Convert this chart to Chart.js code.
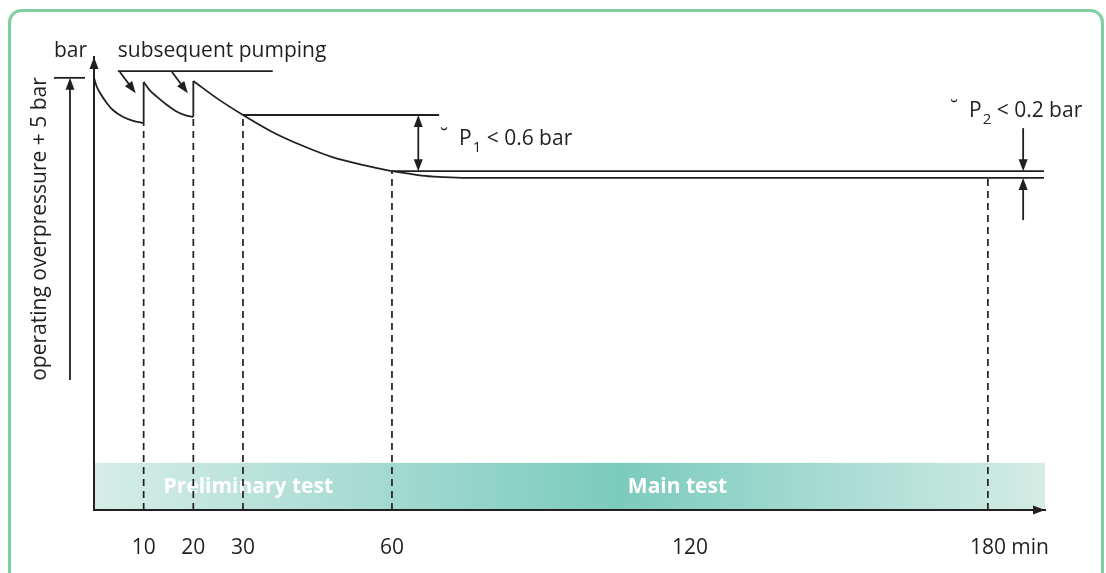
<!DOCTYPE html>
<html>
<head>
<meta charset="utf-8">
<script src="https://cdn.jsdelivr.net/npm/chart.js@4.4.1/dist/chart.umd.min.js"></script>
<style>
  body { margin: 0; background: #fff; }
  #wrap { width: 1106px; height: 573px; position: relative; }
</style>
</head>
<body>
<div id="wrap"><canvas id="chart"></canvas></div>
<script>
const FONT = '"Open Sans", "Noto Sans", sans-serif';
const INK = '#231f20';

// x in minutes, y in schematic pressure units (0..10)
const xMax = 191.5;
const yMax = 10;

// pressure drop after first filling
const seg1Time = [0, 0.5, 1.2, 2.6, 3.8, 5.8, 7.9, 10];
const seg1Bar = [9.54, 9.36, 9.21, 8.98, 8.83, 8.68, 8.59, 8.54];
// after first re-pumping
const seg2Time = [10, 11.2, 12.7, 14.7, 16.7, 18.8, 20];
const seg2Bar = [9.45, 9.27, 9.12, 8.94, 8.79, 8.70, 8.68];
// after second re-pumping, down to end of preliminary test
const seg3Time = [20, 25, 30, 36, 42, 48, 54, 60];
const seg3Bar = [9.47, 9.07, 8.72, 8.34, 8.04, 7.79, 7.62, 7.48];
// main test
const seg4Time = [60, 63, 66, 70, 75, 191.3];
const seg4Bar = [7.48, 7.43, 7.38, 7.35, 7.33, 7.33];

// the two re-pumping jumps
const jumpTime = [10, 20];
const jumpFrom = [8.54, 8.68];
const jumpTo = [9.45, 9.47];

// reference levels
const level30 = 8.72;   // pressure at 30 min
const level60 = 7.48;   // pressure at 60 min
const level30End = 69.5;
const levelEnd = 191.3;

// dashed markers
const markTime = [10, 20, 30, 60, 180];
const markTop = [8.54, 8.68, 8.72, 7.48, 7.33];

const tickValues = [10, 20, 30, 60, 120, 180];
const bandTop = 1.04;
const phaseLabels = ['Preliminary test', 'Main test'];
const phaseStart = [14.0, 107.5];

const pts = (xs, ys) => xs.map((x, i) => ({ x: x, y: ys[i] }));
const solid = (data, smooth) => ({
  data: data,
  borderColor: INK,
  borderWidth: 1.8,
  pointRadius: 0,
  fill: false,
  cubicInterpolationMode: smooth ? 'monotone' : 'default',
  tension: 0,
});

const datasets = [
  solid(pts(seg1Time, seg1Bar), true),
  solid(pts(seg2Time, seg2Bar), true),
  solid(pts(seg3Time, seg3Bar), true),
  solid(pts(seg4Time, seg4Bar), true),
  solid(pts([30, level30End], [level30, level30])),
  solid(pts([60, levelEnd], [level60, level60])),
];
jumpTime.forEach((t, i) => datasets.push(solid(pts([t, t], [jumpFrom[i], jumpTo[i]]))));
markTime.forEach((t, i) => {
  const d = solid(pts([t, t], [0, markTop[i]]));
  d.borderDash = [7, 5];
  d.borderWidth = 1.7;
  datasets.push(d);
});

function arrowHead(ctx, x, y, ang, len, half) {
  ctx.save();
  ctx.translate(x, y);
  ctx.rotate(ang);
  ctx.beginPath();
  ctx.moveTo(0, 0);
  ctx.lineTo(-len, -half);
  ctx.lineTo(-len, half);
  ctx.closePath();
  ctx.fill();
  ctx.restore();
}

function arrow(ctx, x1, y1, x2, y2) {
  const ang = Math.atan2(y2 - y1, x2 - x1);
  ctx.beginPath();
  ctx.moveTo(x1, y1);
  ctx.lineTo(x2 - Math.cos(ang) * 8, y2 - Math.sin(ang) * 8);
  ctx.stroke();
  arrowHead(ctx, x2, y2, ang, 12, 4.5);
}

function pLabel(ctx, x, base, sub, rest) {
  ctx.textAlign = 'left';
  ctx.textBaseline = 'alphabetic';
  ctx.font = '21px ' + FONT;
  ctx.fillText('\u02D8', x - 19, base - 1);
  ctx.fillText('P', x, base);
  let cx = x + ctx.measureText('P').width;
  ctx.font = '15px ' + FONT;
  ctx.fillText(sub, cx + 1, base + 7);
  cx += ctx.measureText(sub).width + 1;
  ctx.font = '21px ' + FONT;
  ctx.fillText(rest, cx, base);
}

const overlay = {
  id: 'overlay',
  beforeDraw(chart) {
    const ctx = chart.ctx;
    const X = v => chart.scales.x.getPixelForValue(v);
    const Y = v => chart.scales.y.getPixelForValue(v);
    ctx.save();
    // green frame
    ctx.strokeStyle = '#7fcfa3';
    ctx.lineWidth = 3;
    const l = 9.5, t = 10.5, r = 1102.5, rad = 12;
    ctx.beginPath();
    ctx.moveTo(l, 580);
    ctx.lineTo(l, t + rad);
    ctx.arcTo(l, t, l + rad, t, rad);
    ctx.lineTo(r - rad, t);
    ctx.arcTo(r, t, r, t + rad, rad);
    ctx.lineTo(r, 580);
    ctx.stroke();
    // phase band
    const x0 = X(0), x1 = X(xMax);
    const g = ctx.createLinearGradient(x0, 0, x1, 0);
    g.addColorStop(0, '#d6ede7');
    g.addColorStop(0.55, '#7bcbbd');
    g.addColorStop(1, '#d4ece5');
    ctx.fillStyle = g;
    ctx.fillRect(x0, Y(bandTop), x1 - x0, Y(0) - Y(bandTop));
    ctx.fillStyle = '#ffffff';
    ctx.font = 'bold 21px ' + FONT;
    ctx.textBaseline = 'middle';
    ctx.textAlign = 'left';
    phaseLabels.forEach((s, i) => ctx.fillText(s, X(phaseStart[i]), Y(bandTop / 2) + 1));
    ctx.restore();
  },
  afterDraw(chart) {
    const ctx = chart.ctx;
    const xs = chart.scales.x, ys = chart.scales.y;
    const X = v => xs.getPixelForValue(v);
    const Y = v => ys.getPixelForValue(v);
    const area = chart.chartArea;
    ctx.save();
    ctx.strokeStyle = INK;
    ctx.fillStyle = INK;
    ctx.lineWidth = 1.8;

    // axis arrowheads
    arrowHead(ctx, area.left, area.top, -Math.PI / 2, 12, 4.5);
    arrowHead(ctx, area.right, area.bottom, 0, 12, 4.5);

    // left-hand pressure arrow with its tick
    const topP = seg1Bar[0];
    arrow(ctx, area.left - 24, Y(2.87), area.left - 24, Y(topP));
    ctx.beginPath();
    ctx.moveTo(area.left - 40, Y(topP));
    ctx.lineTo(area.left - 9, Y(topP));
    ctx.stroke();

    // subsequent pumping leader
    ctx.beginPath();
    ctx.moveTo(X(4.8), Y(9.69));
    ctx.lineTo(X(36), Y(9.69));
    ctx.stroke();
    arrow(ctx, X(5.2), Y(9.67), X(8.4), Y(9.2));
    arrow(ctx, X(15.7), Y(9.67), X(18.9), Y(9.2));

    // P1 double arrow
    const a1 = X(65.3);
    arrow(ctx, a1, (Y(level30) + Y(level60)) / 2, a1, Y(level30));
    arrow(ctx, a1, (Y(level30) + Y(level60)) / 2, a1, Y(level60));

    // P2 arrows
    const a2 = X(187.1);
    arrow(ctx, a2, Y(8.43), a2, Y(level60));
    arrow(ctx, a2, Y(6.40), a2, Y(seg4Bar[seg4Bar.length - 1]));

    // texts
    ctx.font = '21px ' + FONT;
    ctx.textAlign = 'left';
    ctx.textBaseline = 'alphabetic';
    ctx.fillText('bar', 54, 57);
    ctx.fillText('subsequent pumping', X(4.8), 57);
    pLabel(ctx, 459, 145, '1', ' < 0.6 bar');
    pLabel(ctx, 969, 117, '2', ' < 0.2 bar');

    ctx.save();
    ctx.translate(40, 229);
    ctx.rotate(-Math.PI / 2);
    ctx.textAlign = 'center';
    ctx.textBaseline = 'middle';
    ctx.fillText('operating overpressure + 5 bar', 0, 0);
    ctx.restore();

    // unit after last tick label
    const items = xs.getLabelItems ? xs.getLabelItems(area) : [];
    const it = items.find(i => i.label === '180');
    if (it) {
      ctx.font = it.font.string;
      const w = ctx.measureText('180').width;
      ctx.save();
      ctx.translate(it.options.translation[0], it.options.translation[1]);
      ctx.textAlign = 'left';
      ctx.textBaseline = it.options.textBaseline;
      ctx.fillText(' min', w / 2, it.textOffset);
      ctx.restore();
    }
    ctx.restore();
  },
};

new Chart(document.getElementById('chart'), {
  type: 'line',
  data: { datasets: datasets },
  options: {
    responsive: true,
    maintainAspectRatio: false,
    animation: false,
    layout: { padding: { top: 57, right: 61, bottom: 0, left: 0 } },
    plugins: { legend: { display: false }, tooltip: { enabled: false } },
    scales: {
      x: {
        type: 'linear',
        min: 0,
        max: xMax,
        grid: { display: false },
        border: { color: INK, width: 2 },
        afterBuildTicks: s => { s.ticks = tickValues.map(v => ({ value: v })); },
        ticks: {
          color: INK,
          font: { family: FONT, size: 21 },
          padding: 17,
          maxRotation: 0,
          autoSkip: false,
          callback: v => String(v),
        },
        afterFit: s => { s.height = 63; },
      },
      y: {
        min: 0,
        max: yMax,
        grid: { display: false },
        border: { color: INK, width: 2 },
        ticks: { display: false },
        afterFit: s => { s.width = 94; },
      },
    },
  },
  plugins: [overlay],
});
</script>
</body>
</html>
